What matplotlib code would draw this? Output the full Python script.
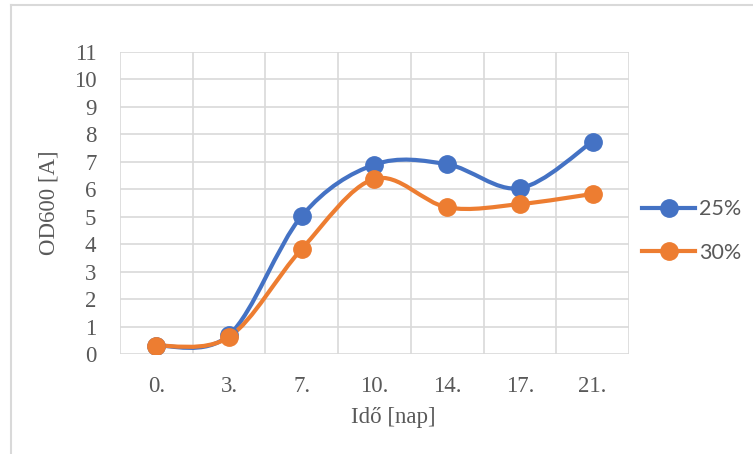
import matplotlib
matplotlib.use("Agg")
import matplotlib.pyplot as plt
from matplotlib.path import Path
from matplotlib.patches import PathPatch
from matplotlib.lines import Line2D
import numpy as np

categories = ["0.", "3.", "7.", "10.", "14.", "17.", "21."]
series_names = ["25%", "30%"]
values_25 = [0.3, 0.69, 5.03, 6.9, 6.91, 6.04, 7.74]
values_30 = [0.3, 0.62, 3.83, 6.38, 5.34, 5.46, 5.83]
y_ticks = list(range(0, 12))

colors = ["#4472C4", "#ED7D31"]
grid_color = "#D9D9D9"
text_color = "#595959"

W, H = 753, 454
fig = plt.figure(figsize=(W / 100, H / 100), dpi=100)
ax = fig.add_axes([120 / W, 1 - 354 / H, (629 - 120) / W, (354 - 52) / H])

serif = "Liberation Serif"


def smooth_path(xs, ys):
    pts = np.column_stack([xs, ys]).astype(float)
    n = len(pts)
    verts = [pts[0]]
    codes = [Path.MOVETO]
    for i in range(n - 1):
        p0 = pts[i - 1] if i > 0 else pts[i]
        p1 = pts[i]
        p2 = pts[i + 1]
        p3 = pts[i + 2] if i + 2 < n else pts[i + 1]
        c1 = p1 + (p2 - p0) / 6.0
        c2 = p2 - (p3 - p1) / 6.0
        verts += [c1, c2, p2]
        codes += [Path.CURVE4] * 3
    return Path(verts, codes)


x = np.arange(len(categories))
for vals, col, name in zip([values_25, values_30], colors, series_names):
    patch = PathPatch(smooth_path(x, vals), facecolor="none", edgecolor=col,
                      lw=3.0, capstyle="round", joinstyle="round", zorder=3)
    ax.add_patch(patch)
    ax.plot(x, vals, linestyle="none", marker="o", markersize=12.5,
            color=col, zorder=4, label=name)

ax.set_xlim(-0.5, len(categories) - 0.5)
ax.set_ylim(0, 11)
ax.set_yticks(y_ticks)
ax.set_xticks(x)
ax.set_xticklabels(categories)
ax.set_xticks(np.arange(-0.5, len(categories)), minor=True)
ax.grid(True, axis="y", which="major", color=grid_color, lw=1.2, zorder=0)
ax.grid(True, axis="x", which="minor", color=grid_color, lw=1.2, zorder=0)
ax.grid(False, axis="x", which="major")
for s in ax.spines.values():
    s.set_visible(False)
ax.tick_params(axis="both", which="both", length=0)
ax.tick_params(axis="x", pad=16)
ax.tick_params(axis="y", pad=17)
for lab in ax.get_xticklabels() + ax.get_yticklabels():
    lab.set_fontfamily(serif)
    lab.set_fontsize(16.5)
    lab.set_color(text_color)

ax.set_ylabel("OD600 [A]", fontfamily=serif, fontsize=16.5, color=text_color,
              va="center")
ax.yaxis.set_label_coords((49 - 120) / 509, 0.5)
ax.set_xlabel("Idő [nap]", fontfamily=serif, fontsize=16.5, color=text_color,
              va="center")
ax.xaxis.set_label_coords((393 - 120) / 509, (354 - 418) / 302)

handles = [Line2D([0], [0], color=c, lw=3.0, marker="o", markersize=12.5)
           for c in colors]
leg = fig.legend(handles, series_names, loc="center left",
                 bbox_to_anchor=(633 / W, 1 - 231 / H), frameon=False,
                 prop={"family": "Lato", "size": 15.5}, handlelength=2.5,
                 handletextpad=0.15, labelspacing=1.1, borderaxespad=0)
for t in leg.get_texts():
    t.set_color(text_color)

# chart area border (left and top edges visible)
fig.add_artist(Line2D([11 / W, 11 / W], [0, 1 - 5 / H], transform=fig.transFigure,
                      color=grid_color, lw=1.5))
fig.add_artist(Line2D([11 / W, 1], [1 - 5 / H, 1 - 5 / H], transform=fig.transFigure,
                      color=grid_color, lw=1.5))

fig.savefig("out.png", dpi=100)
